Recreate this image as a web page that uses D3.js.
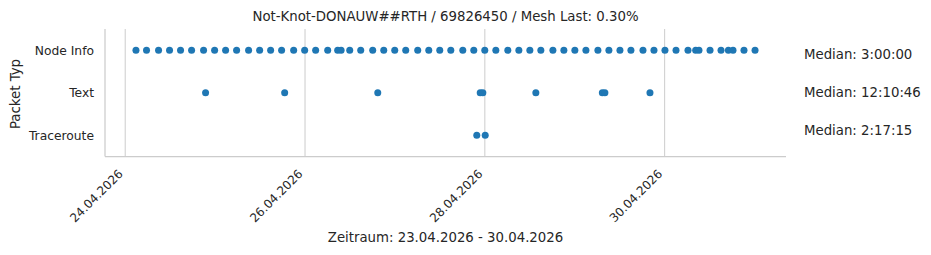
<!DOCTYPE html>
<html>
<head>
<meta charset="utf-8">
<title>Packet Typ</title>
<script src="https://d3js.org/d3.v7.min.js"></script>
<style>
  body { margin: 0; background: #fff; }
  text { font-family: "DejaVu Sans", sans-serif; fill: #262626; }
</style>
</head>
<body>
<div id="chart"></div>
<script>
// packet types (y categories)
var categories = ["Node Info", "Text", "Traceroute"];

// timestamps
var nodeInfo = [
  "2026-04-24 02:52", "2026-04-24 05:41", "2026-04-24 08:54", "2026-04-24 11:50", "2026-04-24 14:46",
  "2026-04-24 17:43", "2026-04-24 20:55", "2026-04-24 23:52", "2026-04-25 02:48", "2026-04-25 05:44",
  "2026-04-25 08:56", "2026-04-25 11:53", "2026-04-25 14:49", "2026-04-25 17:45", "2026-04-25 20:58",
  "2026-04-25 23:54", "2026-04-26 02:50", "2026-04-26 06:03", "2026-04-26 08:43", "2026-04-26 09:38",
  "2026-04-26 11:56", "2026-04-26 14:52", "2026-04-26 18:04", "2026-04-26 21:01", "2026-04-26 23:57",
  "2026-04-27 02:53", "2026-04-27 06:05", "2026-04-27 09:02", "2026-04-27 11:58", "2026-04-27 14:55",
  "2026-04-27 18:07", "2026-04-27 21:03", "2026-04-27 23:59", "2026-04-28 02:56", "2026-04-28 06:08",
  "2026-04-28 09:05", "2026-04-28 12:01", "2026-04-28 14:57", "2026-04-28 18:10", "2026-04-28 21:06",
  "2026-04-29 00:02", "2026-04-29 02:59", "2026-04-29 06:11", "2026-04-29 09:07", "2026-04-29 12:04",
  "2026-04-29 15:00", "2026-04-29 18:13", "2026-04-29 21:09", "2026-04-30 00:05", "2026-04-30 03:02",
  "2026-04-30 06:14", "2026-04-30 08:17", "2026-04-30 09:10", "2026-04-30 12:07", "2026-04-30 15:03",
  "2026-04-30 17:01", "2026-04-30 18:15", "2026-04-30 21:11", "2026-05-01 00:08"
];
var textMsgs = [
  "2026-04-24 21:27", "2026-04-25 18:34", "2026-04-26 19:25", "2026-04-27 22:46", "2026-04-27 23:28",
  "2026-04-28 13:37", "2026-04-29 07:22", "2026-04-29 08:03", "2026-04-29 20:05"
];
var traceroute = ["2026-04-27 21:51", "2026-04-28 00:06"];

var medians = ["Median: 3:00:00", "Median: 12:10:46", "Median: 2:17:15"];
var tickDates = ["2026-04-24", "2026-04-26", "2026-04-28", "2026-04-30"];

var title = "Not-Knot-DONAUW##RTH / 69826450 / Mesh Last: 0.30%";
var xLabel = "Zeitraum: 23.04.2026 - 30.04.2026";
var yLabel = "Packet Typ";

var parse = d3.timeParse("%Y-%m-%d %H:%M");
var parseDay = d3.timeParse("%Y-%m-%d");

var points = [];
[nodeInfo, textMsgs, traceroute].forEach(function(list, i) {
  list.forEach(function(t) { points.push({ type: categories[i], date: parse(t) }); });
});

// set the dimensions and margins of the graph
var W = 931, H = 255;
var margin = {top: 29, right: 145, bottom: 98.5, left: 105},
    width = W - margin.left - margin.right,
    height = H - margin.top - margin.bottom;

var svg = d3.select("#chart")
  .append("svg")
    .attr("width", W)
    .attr("height", H);

var g = svg.append("g")
    .attr("transform", "translate(" + margin.left + "," + margin.top + ")");

// x: time with 5% padding like matplotlib
var ext = d3.extent(points, function(d) { return d.date; });
var pad = (ext[1] - ext[0]) * 0.05;
var x = d3.scaleTime()
  .domain([new Date(+ext[0] - pad), new Date(+ext[1] + pad)])
  .range([0, width]);

var y = d3.scalePoint()
  .domain(categories)
  .range([0, height])
  .padding(0.5);

// vertical gridlines
var ticks = tickDates.map(parseDay);
g.selectAll(".grid")
  .data(ticks)
  .enter().append("line")
    .attr("x1", function(d) { return x(d); })
    .attr("x2", function(d) { return x(d); })
    .attr("y1", 0)
    .attr("y2", height)
    .attr("stroke", "#cccccc")
    .attr("stroke-width", 1);

// spines (left + bottom)
g.append("line").attr("x1", 0).attr("x2", 0).attr("y1", 0).attr("y2", height)
  .attr("stroke", "#cccccc").attr("stroke-width", 1.25);
g.append("line").attr("x1", 0).attr("x2", width).attr("y1", height).attr("y2", height)
  .attr("stroke", "#cccccc").attr("stroke-width", 1.25);

// X axis, labels rotated 45deg, right end at the tick
var xAxis = g.append("g")
  .attr("transform", "translate(0," + height + ")")
  .call(d3.axisBottom(x).tickValues(ticks).tickFormat(d3.timeFormat("%d.%m.%Y")).tickSize(0));
xAxis.select(".domain").remove();
xAxis.selectAll("text")
  .attr("font-size", 12)
  .attr("fill", "#262626")
  .attr("text-anchor", "end")
  .attr("x", 0)
  .attr("y", 0)
  .attr("dy", 0)
  .attr("transform", "translate(-2,18) rotate(-45)");

// Y axis
var yAxis = g.append("g")
  .call(d3.axisLeft(y).tickSize(0).tickPadding(11));
yAxis.select(".domain").remove();
yAxis.selectAll("text")
  .attr("font-size", 12.3)
  .attr("fill", "#262626");

// points
g.selectAll(".dot")
  .data(points)
  .enter().append("circle")
    .attr("cx", function(d) { return x(d.date); })
    .attr("cy", function(d) { return y(d.type); })
    .attr("r", 3.5)
    .attr("fill", "#1f77b4");

// medians on the right
svg.selectAll(".median")
  .data(medians)
  .enter().append("text")
    .attr("x", 804)
    .attr("y", function(d, i) { return 59 + i * 38; })
    .attr("font-size", 13.3)
    .text(function(d) { return d; });

// title and labels
svg.append("text")
  .attr("x", margin.left + width / 2)
  .attr("y", 21)
  .attr("text-anchor", "middle")
  .attr("font-size", 13.3)
  .text(title);

svg.append("text")
  .attr("x", margin.left + width / 2)
  .attr("y", 242)
  .attr("text-anchor", "middle")
  .attr("font-size", 13.3)
  .text(xLabel);

svg.append("text")
  .attr("transform", "translate(20," + 94 + ") rotate(-90)")
  .attr("text-anchor", "middle")
  .attr("font-size", 13.3)
  .text(yLabel);
</script>
</body>
</html>
